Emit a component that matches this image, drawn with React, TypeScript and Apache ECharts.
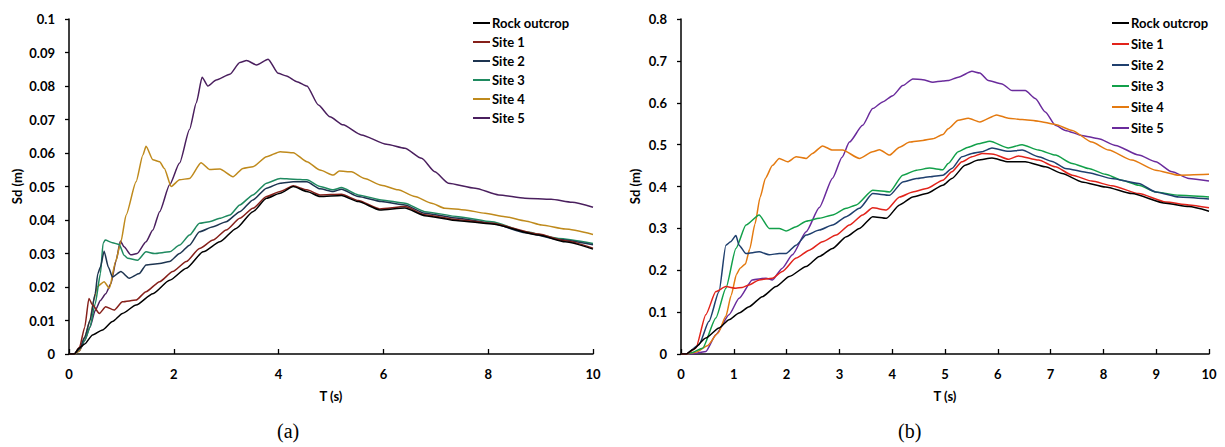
import React, { useEffect, useRef } from "react";
import * as echarts from "echarts";

const seriesNames = ["Rock outcrop", "Site 1", "Site 2", "Site 3", "Site 4", "Site 5"];
const colorsA = ["#000000", "#86201a", "#1d3450", "#1f8a60", "#bf8a1c", "#4a1f5e"];
const colorsB = ["#000000", "#e2231a", "#1f3f6e", "#12a04a", "#e47a10", "#6a2b9c"];

const xTicksA = [0, 2, 4, 6, 8, 10];
const xTicksB = [0, 1, 2, 3, 4, 5, 6, 7, 8, 9, 10];

// (a) Sd (m) vs T (s)
const aRock = [[0,0],[0.1,0],[0.19,0.0017],[0.3,0.003],[0.45,0.0057],[0.64,0.0072],[0.83,0.0097],[1.02,0.0121],[1.28,0.0146],[1.6,0.018],[1.92,0.022],[2.24,0.0256],[2.56,0.0305],[2.88,0.0335],[3.19,0.0375],[3.51,0.0425],[3.77,0.0465],[4.03,0.048],[4.28,0.05],[4.54,0.0485],[4.79,0.047],[5.2,0.0473],[5.52,0.0455],[5.93,0.043],[6.41,0.0436],[6.79,0.0413],[7.43,0.0398],[8.07,0.0388],[8.96,0.0355],[9.47,0.0335],[10,0.0313]];
const aSite1 = [[0,0],[0.1,0],[0.2,0.002],[0.3,0.008],[0.38,0.0166],[0.45,0.0146],[0.58,0.0121],[0.7,0.0141],[0.86,0.0131],[1.02,0.0156],[1.28,0.0161],[1.47,0.0186],[1.73,0.0216],[1.98,0.0246],[2.24,0.0276],[2.49,0.0315],[2.75,0.034],[3.0,0.037],[3.26,0.0405],[3.51,0.0435],[3.77,0.047],[4.03,0.0485],[4.28,0.0502],[4.54,0.049],[4.79,0.0475],[5.2,0.0477],[5.52,0.0458],[5.93,0.0433],[6.41,0.044],[6.79,0.0416],[7.43,0.0401],[8.07,0.039],[8.96,0.0358],[9.47,0.0338],[10,0.0316]];
const aSite2 = [[0,0],[0.1,0],[0.2,0.0015],[0.3,0.005],[0.4,0.01],[0.5,0.018],[0.55,0.024],[0.6,0.026],[0.67,0.0307],[0.75,0.026],[0.83,0.023],[0.99,0.0246],[1.15,0.0226],[1.34,0.024],[1.47,0.0266],[1.73,0.027],[1.92,0.0276],[2.11,0.03],[2.3,0.0325],[2.49,0.0365],[2.75,0.038],[3.0,0.0395],[3.26,0.0425],[3.51,0.046],[3.77,0.0495],[4.03,0.051],[4.28,0.0514],[4.54,0.0514],[4.79,0.0493],[5.04,0.0485],[5.2,0.0492],[5.52,0.047],[5.96,0.0455],[6.41,0.0445],[6.79,0.042],[7.43,0.0405],[8.07,0.039],[8.71,0.0362],[9.34,0.0342],[10,0.0326]];
const aSite3 = [[0,0],[0.1,0],[0.2,0.0015],[0.3,0.004],[0.4,0.008],[0.5,0.015],[0.6,0.024],[0.65,0.033],[0.69,0.034],[0.83,0.0332],[0.96,0.0327],[1.05,0.0295],[1.12,0.0286],[1.31,0.028],[1.47,0.0305],[1.63,0.03],[1.92,0.0305],[2.11,0.0325],[2.3,0.0355],[2.49,0.039],[2.68,0.0395],[2.88,0.0405],[3.07,0.0415],[3.26,0.0445],[3.51,0.0475],[3.77,0.051],[4.03,0.0524],[4.28,0.0522],[4.54,0.052],[4.79,0.05],[5.04,0.049],[5.2,0.0497],[5.52,0.0475],[5.96,0.046],[6.41,0.045],[6.79,0.0425],[7.43,0.041],[8.07,0.0395],[8.71,0.0365],[9.34,0.0345],[10,0.033]];
const aSite4 = [[0,0],[0.1,0],[0.2,0.001],[0.3,0.005],[0.4,0.01],[0.47,0.016],[0.54,0.0201],[0.67,0.0216],[0.77,0.0196],[0.89,0.0276],[0.99,0.0335],[1.09,0.0415],[1.28,0.0514],[1.41,0.0594],[1.47,0.062],[1.6,0.058],[1.73,0.0574],[1.82,0.0554],[1.95,0.05],[2.11,0.052],[2.3,0.0524],[2.52,0.0571],[2.68,0.0551],[2.88,0.0552],[3.13,0.0529],[3.32,0.0554],[3.51,0.0559],[3.77,0.0589],[4.03,0.0604],[4.28,0.0601],[4.54,0.0574],[4.79,0.0549],[5.04,0.0534],[5.16,0.0546],[5.39,0.0544],[5.64,0.0524],[5.96,0.0504],[6.28,0.049],[6.6,0.047],[6.92,0.045],[7.17,0.0435],[7.56,0.043],[7.94,0.042],[8.32,0.041],[8.71,0.0397],[9.02,0.0385],[9.47,0.0373],[10,0.0357]];
const aSite5 = [[0,0],[0.1,0],[0.2,0.001],[0.3,0.004],[0.4,0.008],[0.5,0.013],[0.6,0.016],[0.7,0.018],[0.8,0.021],[0.9,0.028],[0.98,0.0337],[1.05,0.032],[1.18,0.0296],[1.3,0.03],[1.47,0.0335],[1.6,0.037],[1.73,0.0425],[1.92,0.0505],[2.11,0.057],[2.3,0.067],[2.43,0.075],[2.54,0.0826],[2.65,0.08],[2.81,0.0818],[3.07,0.0835],[3.26,0.087],[3.39,0.0876],[3.58,0.0863],[3.8,0.088],[3.99,0.0838],[4.15,0.083],[4.35,0.0813],[4.54,0.08],[4.76,0.0743],[4.98,0.0708],[5.23,0.0684],[5.58,0.0654],[6.06,0.0626],[6.41,0.0614],[6.73,0.0584],[6.98,0.0544],[7.24,0.051],[7.75,0.0495],[8.2,0.0475],[8.7,0.0465],[9.2,0.0462],[9.6,0.0453],[10,0.0438]];

// (b) Sd (m) vs T (s)
const bRock = [[0,0],[0.1,0],[0.22,0.01],[0.47,0.038],[0.72,0.062],[0.91,0.082],[1.1,0.098],[1.29,0.113],[1.54,0.137],[1.8,0.161],[2.05,0.185],[2.37,0.209],[2.62,0.233],[2.87,0.252],[3.13,0.28],[3.38,0.3],[3.63,0.328],[3.89,0.324],[4.14,0.356],[4.39,0.375],[4.65,0.383],[4.96,0.403],[5.13,0.419],[5.38,0.451],[5.63,0.463],[5.89,0.468],[6.2,0.459],[6.52,0.459],[6.9,0.447],[7.22,0.431],[7.59,0.411],[8.04,0.399],[8.54,0.383],[9.18,0.36],[9.62,0.352],[10,0.341]];
const bSite1 = [[0,0],[0.1,0],[0.28,0.014],[0.47,0.094],[0.66,0.149],[0.85,0.161],[1.04,0.157],[1.16,0.159],[1.29,0.165],[1.48,0.177],[1.73,0.181],[1.92,0.197],[2.18,0.229],[2.43,0.248],[2.68,0.268],[2.94,0.284],[3.19,0.308],[3.44,0.332],[3.63,0.349],[3.89,0.344],[4.14,0.375],[4.39,0.387],[4.65,0.395],[4.96,0.415],[5.13,0.435],[5.32,0.459],[5.51,0.471],[5.7,0.479],[5.92,0.477],[6.2,0.465],[6.39,0.473],[6.77,0.463],[7.09,0.447],[7.41,0.427],[7.78,0.413],[8.16,0.402],[8.67,0.383],[9.18,0.363],[9.62,0.356],[10,0.349]];
const bSite2 = [[0,0],[0.1,0],[0.34,0.022],[0.53,0.078],[0.72,0.149],[0.85,0.26],[0.94,0.268],[1.04,0.283],[1.1,0.26],[1.23,0.24],[1.48,0.244],[1.67,0.237],[1.86,0.24],[1.99,0.24],[2.18,0.26],[2.37,0.284],[2.62,0.296],[2.87,0.308],[3.13,0.328],[3.38,0.348],[3.63,0.383],[3.95,0.379],[4.2,0.411],[4.46,0.419],[4.71,0.423],[4.96,0.427],[5.13,0.443],[5.32,0.471],[5.51,0.479],[5.7,0.483],[5.89,0.492],[6.2,0.484],[6.46,0.487],[6.77,0.471],[7.03,0.46],[7.28,0.443],[7.72,0.433],[8.16,0.419],[8.67,0.407],[8.99,0.387],[9.43,0.375],[10,0.37]];
const bSite3 = [[0,0],[0.1,0],[0.2,0.003],[0.41,0.014],[0.66,0.086],[0.85,0.157],[1.04,0.252],[1.23,0.308],[1.48,0.332],[1.67,0.3],[1.86,0.3],[1.99,0.294],[2.18,0.304],[2.37,0.317],[2.62,0.324],[2.87,0.332],[3.13,0.348],[3.32,0.356],[3.63,0.391],[3.95,0.387],[4.2,0.427],[4.46,0.439],[4.71,0.444],[4.96,0.44],[5.06,0.455],[5.25,0.483],[5.44,0.494],[5.63,0.502],[5.85,0.508],[6.2,0.492],[6.46,0.5],[6.77,0.487],[7.09,0.475],[7.41,0.455],[7.72,0.443],[8.04,0.429],[8.35,0.415],[8.67,0.403],[8.99,0.387],[9.43,0.379],[10,0.375]];
const bSite4 = [[0,0],[0.1,0],[0.3,0.005],[0.5,0.02],[0.7,0.05],[0.85,0.09],[0.95,0.14],[1.05,0.19],[1.12,0.205],[1.22,0.215],[1.3,0.25],[1.4,0.31],[1.5,0.375],[1.6,0.42],[1.73,0.45],[1.86,0.467],[2.02,0.459],[2.18,0.471],[2.37,0.467],[2.49,0.479],[2.68,0.497],[2.87,0.487],[3.06,0.487],[3.38,0.467],[3.63,0.483],[3.76,0.488],[3.95,0.475],[4.14,0.494],[4.33,0.506],[4.58,0.51],[4.77,0.514],[4.96,0.524],[5.06,0.538],[5.25,0.558],[5.44,0.563],[5.66,0.554],[5.98,0.571],[6.2,0.563],[6.46,0.56],[6.77,0.556],[7.09,0.548],[7.41,0.534],[7.78,0.506],[8.1,0.487],[8.54,0.463],[8.99,0.439],[9.43,0.427],[10,0.429]];
const bSite5 = [[0,0],[0.2,0],[0.3,0.002],[0.47,0.006],[0.66,0.046],[0.91,0.094],[1.1,0.133],[1.35,0.177],[1.61,0.181],[1.73,0.177],[1.92,0.205],[2.11,0.237],[2.37,0.292],[2.62,0.35],[2.87,0.42],[3.05,0.47],[3.19,0.506],[3.44,0.546],[3.63,0.586],[3.82,0.602],[4.01,0.617],[4.2,0.641],[4.39,0.657],[4.58,0.655],[4.77,0.649],[4.96,0.652],[5.06,0.653],[5.25,0.661],[5.51,0.675],[5.66,0.671],[5.82,0.653],[6.08,0.645],[6.27,0.629],[6.52,0.629],[6.71,0.61],[6.9,0.578],[7.09,0.546],[7.28,0.534],[7.59,0.522],[7.91,0.514],[8.23,0.498],[8.67,0.475],[8.99,0.459],[9.3,0.435],[9.62,0.419],[10,0.413]];

const dataA = [aRock, aSite1, aSite2, aSite3, aSite4, aSite5];
const dataB = [bRock, bSite1, bSite2, bSite3, bSite4, bSite5];

const FONT = "Lato, 'Open Sans', sans-serif";

export default function App() {
  const ref = useRef<HTMLDivElement>(null);

  useEffect(() => {
    document.body.style.margin = "0";
    if (!ref.current) return;
    const chart = echarts.init(ref.current, null, { renderer: "svg" });

    const labelStyle = { color: "#000", fontFamily: FONT, fontWeight: "bold" as const, fontSize: 13 };

    const makeX = (gridIndex: number, interval: number) => ({
      type: "value",
      gridIndex,
      min: 0,
      max: 10,
      interval,
      name: "T (s)",
      nameLocation: "middle",
      nameGap: 35,
      nameTextStyle: { ...labelStyle },
      axisLine: { show: true, onZero: false, lineStyle: { color: "#000", width: 1.5 } },
      axisTick: { show: true, inside: true, length: 5, lineStyle: { color: "#000", width: 1.3 } },
      axisLabel: { ...labelStyle, margin: 13 },
      splitLine: { show: false },
    });

    const makeY = (gridIndex: number, max: number, interval: number, digits: number, gap: number) => ({
      type: "value",
      gridIndex,
      min: 0,
      max,
      interval,
      name: "Sd (m)",
      nameLocation: "middle",
      nameGap: gap,
      nameTextStyle: { ...labelStyle },
      axisLine: { show: true, lineStyle: { color: "#000", width: 1.5 } },
      axisTick: { show: true, inside: false, length: 4, lineStyle: { color: "#000", width: 1.3 } },
      axisLabel: {
        ...labelStyle,
        margin: 14,
        formatter: (v: number) => (v === 0 ? "0" : String(+v.toFixed(digits))),
      },
      splitLine: { show: false },
    });

    const makeLegend = (left: number, colors: string[], gap: number) => ({
      orient: "vertical",
      left,
      top: 11,
      icon: "rect",
      itemWidth: 17,
      itemHeight: 2,
      itemGap: gap,
      selectedMode: false,
      textStyle: { ...labelStyle, lineHeight: 14, padding: [0, 0, 0, -3] },
      data: seriesNames.map((n, i) => ({ name: n, itemStyle: { color: colors[i] } })),
    });

    const series: any[] = [];
    dataA.forEach((d, i) =>
      series.push({
        type: "line",
        name: seriesNames[i],
        xAxisIndex: 0,
        yAxisIndex: 0,
        data: d,
        showSymbol: false,
        smooth: 0.2,
        smoothMonotone: "x",
        lineStyle: { color: colorsA[i], width: 1.5 },
        itemStyle: { color: colorsA[i] },
        z: 10 - i,
      })
    );
    dataB.forEach((d, i) =>
      series.push({
        type: "line",
        name: seriesNames[i],
        xAxisIndex: 1,
        yAxisIndex: 1,
        data: d,
        showSymbol: false,
        smooth: 0.2,
        smoothMonotone: "x",
        lineStyle: { color: colorsB[i], width: 1.5 },
        itemStyle: { color: colorsB[i] },
        z: 10 - i,
      })
    );

    chart.setOption({
      animation: false,
      backgroundColor: "#fff",
      grid: [
        { left: 69, top: 19, width: 524, height: 335 },
        { left: 681, top: 19, width: 528, height: 335 },
      ],
      xAxis: [makeX(0, 2), makeX(1, 1)],
      yAxis: [makeY(0, 0.1, 0.01, 2, 46), makeY(1, 0.8, 0.1, 1, 40)],
      legend: [makeLegend(468, colorsA, 5), makeLegend(1107, colorsB, 7)],
      series,
      graphic: [
        {
          type: "text",
          left: 277,
          top: 421,
          style: { text: "(a)", fill: "#000", font: "20px 'Liberation Serif', 'Times New Roman', serif" },
        },
        {
          type: "text",
          left: 898,
          top: 421,
          style: { text: "(b)", fill: "#000", font: "20px 'Liberation Serif', 'Times New Roman', serif" },
        },
      ],
    });

    return () => chart.dispose();
  }, []);

  return <div ref={ref} style={{ width: 1225, height: 447 }} />;
}
